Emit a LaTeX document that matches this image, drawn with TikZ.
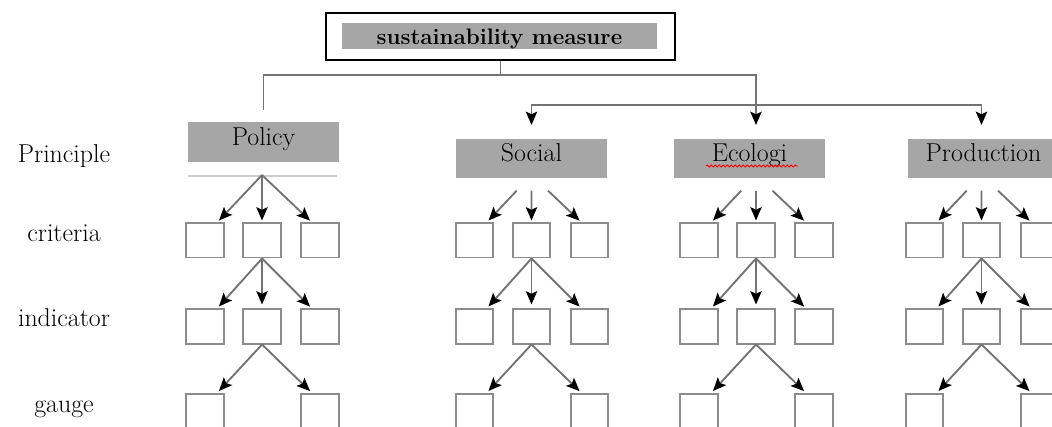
\documentclass[tikz,border=0pt]{standalone}
\usepackage{fontspec}
\usetikzlibrary{arrows.meta,calc,decorations.pathmorphing}

\definecolor{boxfill}{RGB}{166,166,166}
\definecolor{boxline}{RGB}{140,140,140}
\definecolor{linkgray}{RGB}{115,115,115}
\definecolor{rulegray}{RGB}{205,205,205}

\tikzset{every picture/.style={line width=0.75pt}}
\tikzset{
  princ/.style={fill=boxfill, minimum width=113.25pt, minimum height=29.6pt, inner sep=0pt,
    text height=4.8pt, text depth=0pt, font=\fontsize{19.4}{22}\selectfont},
  cell/.style={draw=boxline, line width=1.4pt, minimum width=28pt, minimum height=25.6pt, inner sep=0pt},
  rowlabel/.style={anchor=base, font=\fontsize{19.4}{22}\selectfont},
  link/.style={draw=linkgray, line width=1.4pt},
}

\begin{document}
\begin{tikzpicture}[x=0.75pt,y=0.75pt,yscale=-1,xscale=1,
  >={Stealth[color=black, length=10pt, width=8.5pt, inset=2pt]}]
	\useasboundingbox (0,0) rectangle (1052,427);
	\clip (0,0) rectangle (1052,427);

	%Top box
	\node[draw=black, line width=1.5pt, minimum width=261.75pt, minimum height=35.25pt, inner sep=0pt] (measure) at (500.5,36.5) {};
	\node[fill=boxfill, minimum width=236.25pt, minimum height=19.5pt, inner sep=0pt,
	  text height=13.5pt, text depth=0pt, font=\bfseries\fontsize{16.8}{18}\selectfont] (measuretxt) at (499.5,36) {sustainability measure};

	%Bus levels
	\coordinate (top) at (0,75);
	\coordinate (low) at (0,105);
	\coordinate (stub) at (0,110);

	%Principle boxes
	\node[princ] (policy) at (263.5,142) {Policy};
	\node[princ] (social) at (531.5,158.5) {Social};
	\node[princ] (ecologi) at (749.5,158.5) {Ecologi};
	\node[princ] (production) at (983.5,158.5) {Production};
	%spell mark
	\draw[red, line width=0.7pt, decorate, decoration={snake, amplitude=0.7pt, segment length=3pt}] (706,166) -- (798,166);
	%rule under Policy
	\draw[rulegray, line width=0.9pt] (188,176) -- (337,176);

	% Row labels
	\node[rowlabel] (lprinciple) at (64,163) {Principle};
	\node[rowlabel] (lcriteria) at (64,242) {criteria};
	\node[rowlabel] (lindicator) at (64,327) {indicator};
	\node[rowlabel] (lgauge) at (64,412) {gauge};

	%Groups of small boxes
	\foreach \g/\m/\f in {pol/262/0, soc/531.5/0.33, eco/756/0.33, pro/981.5/0.33} {
	  \coordinate (\g fork) at (\m,175);
	  \coordinate (\g tip) at (\m,125);
	  \node[cell] (\g c1) at (\m-57,240.5) {};
	  \node[cell] (\g c2) at (\m,240.5) {};
	  \node[cell] (\g c3) at (\m+58,240.5) {};
	  \node[cell] (\g i1) at (\m-57,326.5) {};
	  \node[cell] (\g i2) at (\m,326.5) {};
	  \node[cell] (\g i3) at (\m+58,326.5) {};
	  \node[cell] (\g g1) at (\m-57,411) {};
	  \node[cell] (\g g3) at (\m+58,411) {};
	  % principle to criteria
	  \draw[link,->,shorten >=2pt] ($(\g fork)!\f!(\g c1.56)$) -- (\g c1.56);
	  \draw[link,->,shorten >=1.5pt] ($(\g fork)!\f!(\g c2.north)$) -- (\g c2.north);
	  \draw[link,->,shorten >=2pt] ($(\g fork)!\f!(\g c3.114)$) -- (\g c3.114);
	  % criteria to indicator
	  \draw[link,->,shorten >=2pt] (\g c2.south) -- (\g i1.56);
	  \draw[link,->,shorten >=3pt] (\g c2.south) -- (\g i2.north);
	  \draw[link,->,shorten >=2pt] (\g c2.south) -- (\g i3.114);
	  % indicator to gauge
	  \draw[link,->,shorten >=2pt] (\g i2.south) -- (\g g1.56);
	  \draw[link,->,shorten >=2pt] (\g i2.south) -- (\g g3.114);
	}

	%Top connectors
	\draw[link] (measure.south) -- (measure.south |- top);
	\draw[link,->] (policy.north |- stub) -- (policy.north |- top) -| (ecotip);
	\draw[link,<->] (soctip) -- (soctip |- low) -- (protip |- low) -- (protip);

\end{tikzpicture}
\end{document}
